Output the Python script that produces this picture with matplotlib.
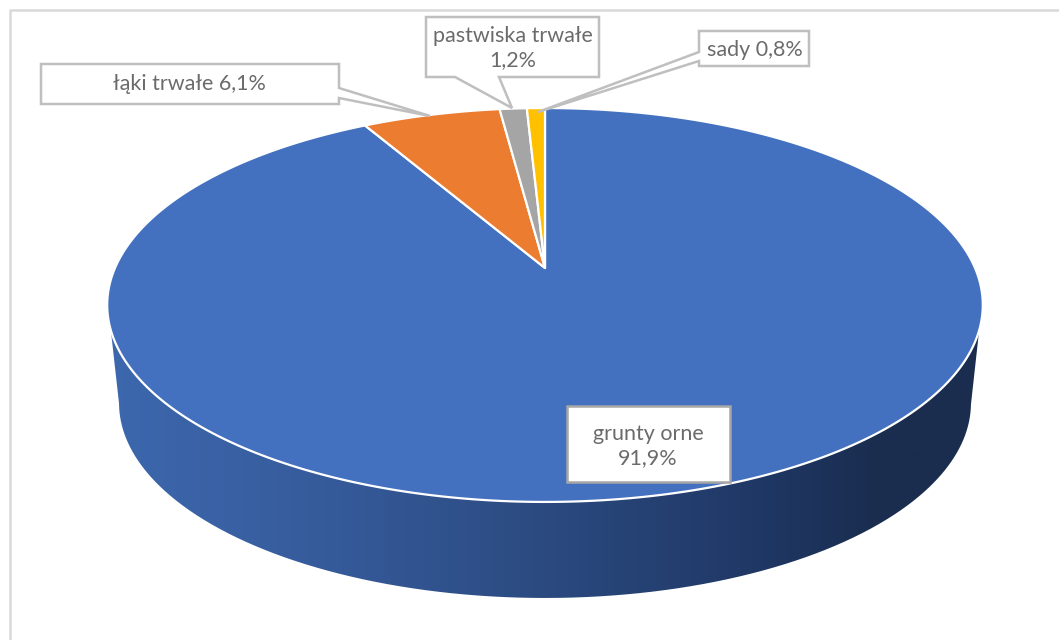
import numpy as np
import matplotlib.pyplot as plt
from matplotlib.colors import LinearSegmentedColormap
from matplotlib.patches import Polygon, PathPatch
from matplotlib.path import Path

plt.rcParams['font.family'] = ['Lato', 'DejaVu Sans']

names = ["grunty orne", "łąki trwałe", "pastwiska trwałe", "sady"]
values = [91.9, 6.1, 1.2, 0.8]
colors = ["#4371BF", "#EB7C30", "#A5A5A5", "#FFC000"]
side_colors = ["#3D68AE", "#365B9B", "#2B4A80", "#1F3764", "#1A2D4F", "#1A2D4F"]
side_stops = [0.0, 0.25, 0.5, 0.75, 0.88, 1.0]

# perspective of the pie disc, in image pixels
cx, cy = 545, 268
A, B, k = 430, 190, 0.1878
depth = 98
bottom_x = 0.973
bottom_y = 0.99


def disc(angle):
    # angle in degrees clockwise from 12 o'clock
    a = np.radians(angle)
    w = 1 + k * np.cos(a)
    return cx + A * np.sin(a) / w, cy - B * np.cos(a) / w


fig = plt.figure(figsize=(10.59, 6.40), dpi=100)
ax = fig.add_axes([0, 0, 1, 1])
ax.set_xlim(0, 1059)
ax.set_ylim(640, 0)
ax.axis("off")

# chart frame
ax.plot([9.5, 9.5, 1059], [640, 10, 10], color="#D9D9D9", lw=1.8, zorder=1)

# side of the pie with horizontal shading
t = np.linspace(0, 360, 1441)
tx, ty = disc(t)
ell_y = 305
front = ty >= 330
order = np.argsort(tx[front])
top_x, top_y = tx[front][order], ty[front][order]
bx = 545 + (tx - 545) * bottom_x
by = ell_y + depth + (ty - ell_y) * bottom_y
low = by >= ell_y + depth
order = np.argsort(bx[low])[::-1]
side = np.column_stack([np.r_[top_x, bx[low][order]], np.r_[top_y, by[low][order]]])

cmap = LinearSegmentedColormap.from_list("side", list(zip(side_stops, side_colors)))
grad = ax.imshow(np.linspace(0, 1, 512)[None, :], extent=[105, 985, 610, 300],
                 cmap=cmap, aspect="auto", zorder=2)
grad.set_clip_path(PathPatch(Path(side), transform=ax.transData))
ax.set_xlim(0, 1059)
ax.set_ylim(640, 0)

# top of the pie, clockwise from 12 o'clock
start = 0
for v, c in zip(values, colors):
    end = start + v / sum(values) * 360
    a = np.linspace(start, end, max(int(end - start) * 4, 8))
    x, y = disc(a)
    ax.add_patch(Polygon(np.column_stack([np.r_[cx, x], np.r_[cy, y]]), closed=True,
                         facecolor=c, edgecolor="white", lw=1.6, joinstyle="round", zorder=3))
    start = end


def callout(corners, edge="#BFBFBF"):
    ax.add_patch(Polygon(corners, closed=True, facecolor="white", edgecolor=edge,
                         lw=1.8, joinstyle="miter", zorder=4))


def pct(i):
    return f"{values[i]:.1f}".replace(".", ",") + "%"


text_style = dict(color="#6B6B6B", fontsize=15.5, ha="center", va="center", zorder=5, linespacing=1.3)

callout([(41, 64), (339, 64), (339, 88), (430, 116), (339, 98), (339, 104), (41, 104)])
ax.text(189, 84, f"{names[1]} {pct(1)}", **text_style)

callout([(426, 17), (599, 17), (599, 77), (499, 77), (512, 108), (455, 77), (426, 77)])
ax.text(513, 48, f"{names[2]}\n{pct(2)}", **text_style)

callout([(699, 31), (809, 31), (809, 66), (699, 66), (699, 61), (538, 112), (699, 52)])
ax.text(755, 50, f"{names[3]} {pct(3)}", **text_style)

callout([(567, 406), (730, 406), (730, 482), (567, 482)], edge="#A6A6A6")
ax.text(648, 446, f"{names[0]}\n{pct(0)}", **text_style)

fig.savefig("out.png", dpi=100, facecolor="white")
plt.close("all")
